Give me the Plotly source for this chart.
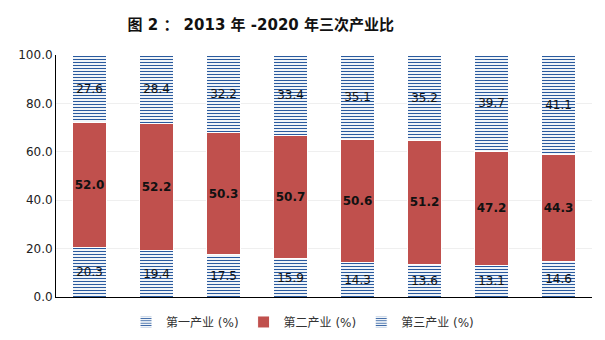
import plotly.graph_objects as go

years = ["2013", "2014", "2015", "2016", "2017", "2018", "2019", "2020"]
primary = [20.3, 19.4, 17.5, 15.9, 14.3, 13.6, 13.1, 14.6]
secondary = [52.0, 52.2, 50.3, 50.7, 50.6, 51.2, 47.2, 44.3]
tertiary = [27.6, 28.4, 32.2, 33.4, 35.1, 35.2, 39.7, 41.1]
names = ["第一产业 (%)", "第二产业 (%)", "第三产业 (%)"]
y_ticks = [0, 20, 40, 60, 80, 100]

FONT = "DejaVu Sans, Noto Sans CJK SC, sans-serif"
BLUE = "#2A5A9E"
RED = "#C0504D"

fig = go.Figure()
pat = dict(shape="-", fgcolor=BLUE, bgcolor="white", fgopacity=1, fillmode="replace",
           size=3, solidity=0.38)

fig.add_bar(x=years, y=primary, name=names[0],
            text=[f"{v:.1f}" for v in primary],
            marker=dict(color=BLUE, pattern=pat, line=dict(color="white", width=1)),
            textfont=dict(color="#111", size=12, family=FONT))
fig.add_bar(x=years, y=secondary, name=names[1],
            text=[f"<b>{v:.1f}</b>" for v in secondary],
            marker=dict(color=RED, line=dict(color="white", width=1)),
            textfont=dict(color="#111", size=12, family=FONT))
fig.add_bar(x=years, y=tertiary, name=names[2],
            text=[f"{v:.1f}" for v in tertiary],
            marker=dict(color=BLUE, pattern=pat, line=dict(color="white", width=1)),
            textfont=dict(color="#111", size=12, family=FONT))

fig.update_traces(textposition="inside", insidetextanchor="middle",
                  textangle=0, constraintext="none")

fig.update_layout(
    barmode="stack", bargap=0.48,
    width=605, height=340,
    margin=dict(l=56, r=13, t=55, b=43, autoexpand=False),
    paper_bgcolor="white", plot_bgcolor="white",
    font=dict(family=FONT, size=12, color="#222"),
    title=dict(text="<b>图 2 ： 2013 年 -2020 年三次产业比</b>", x=0.431, xref="container",
               xanchor="center", y=0.926, yanchor="middle",
               font=dict(size=15, color="#111", family=FONT)),
    legend=dict(orientation="h", x=0.5, xref="container", xanchor="center",
                y=0.053, yref="container", yanchor="middle", itemwidth=30,
                font=dict(size=12, family=FONT, color="#333"), traceorder="normal"),
)
fig.update_xaxes(showticklabels=False, showline=True, linecolor="black", linewidth=1,
                 ticks="", showgrid=False)
fig.update_yaxes(range=[0, 100], tickvals=y_ticks, ticktext=[f"{v:.1f}" for v in y_ticks],
                 showline=True, linecolor="black", linewidth=1, ticks="",
                 showgrid=True, gridcolor="#EFEFEF", gridwidth=1, zeroline=False,
                 tickfont=dict(size=12, color="#222", family=FONT))

fig.write_html("out.html")
